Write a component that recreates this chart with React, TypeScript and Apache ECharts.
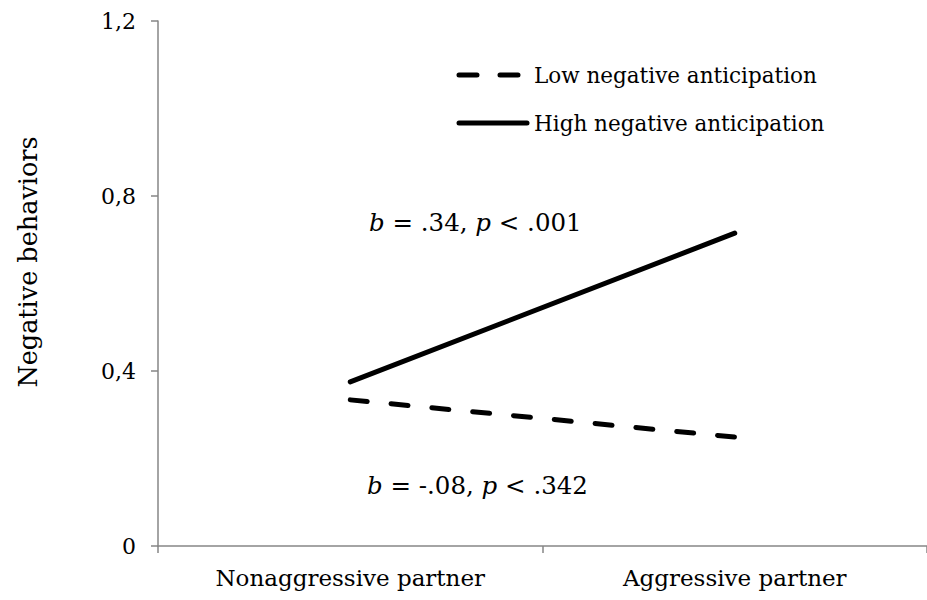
import React, { useEffect, useRef } from "react";
import * as echarts from "echarts";

const categories = ["Nonaggressive partner", "Aggressive partner"];
const lowSeriesName = "Low negative anticipation";
const highSeriesName = "High negative anticipation";
const lowValues = [0.334, 0.249];
const highValues = [0.375, 0.715];
const yMin = 0;
const yMax = 1.2;
const yInterval = 0.4;
const yAxisTitle = "Negative behaviors";
const annotations = [
  { b: ".34", p: ".001", x: 369, y: 222 },
  { b: "-.08", p: ".342", x: 367, y: 485 },
];

const FONT = "DejaVu Serif";
const AXIS_COLOR = "#868686";
const LOW_DASH = [17, 24];

export default function App() {
  const ref = useRef<HTMLDivElement>(null);
  useEffect(() => {
    if (!ref.current) return;
    const chart = echarts.init(ref.current, undefined, { renderer: "svg" });
    const legendRows = [
      { name: lowSeriesName, y: 75, dash: [18, 23], x2: 522 },
      { name: highSeriesName, y: 123, dash: null as number[] | null, x2: 527 },
    ];
    chart.setOption({
      animation: false,
      backgroundColor: "#ffffff",
      textStyle: { fontFamily: FONT, color: "#000" },
      grid: { left: 158, right: -5, top: 21, bottom: 54, containLabel: false },
      xAxis: {
        type: "category",
        data: categories,
        boundaryGap: true,
        axisLine: { lineStyle: { color: AXIS_COLOR, width: 1.5 } },
        axisTick: { show: true, length: 7, alignWithLabel: false, lineStyle: { color: AXIS_COLOR, width: 1.5 } },
        axisLabel: { fontFamily: FONT, fontSize: 23, color: "#000", margin: 20 },
        splitLine: { show: false },
      },
      yAxis: {
        type: "value",
        min: yMin,
        max: yMax,
        interval: yInterval,
        axisLine: { show: true, lineStyle: { color: AXIS_COLOR, width: 1.5 } },
        axisTick: { show: true, length: 7, lineStyle: { color: AXIS_COLOR, width: 1.5 } },
        axisLabel: {
          fontFamily: FONT,
          fontSize: 22,
          color: "#000",
          margin: 22,
          formatter: (v: number) => String(Math.round(v * 10) / 10).replace(".", ","),
        },
        splitLine: { show: false },
      },
      series: [
        {
          name: lowSeriesName,
          type: "line",
          data: lowValues,
          symbol: "none",
          lineStyle: { color: "#000", width: 5, type: LOW_DASH, cap: "round" },
          itemStyle: { color: "#000" },
        },
        {
          name: highSeriesName,
          type: "line",
          data: highValues,
          symbol: "none",
          lineStyle: { color: "#000", width: 5, type: "solid", cap: "round" },
          itemStyle: { color: "#000" },
        },
      ],
      graphic: [
        {
          type: "text",
          x: 28,
          y: 262,
          rotation: Math.PI / 2,
          style: {
            text: yAxisTitle,
            fontFamily: FONT,
            fontSize: 25.5,
            fill: "#000",
            align: "center",
            verticalAlign: "middle",
          },
        },
        ...annotations.map((a) => ({
          type: "text",
          x: a.x,
          y: a.y,
          style: {
            text: `{i|b}{n| = ${a.b}, }{i|p}{n| < ${a.p}}`,
            fontFamily: FONT,
            fontSize: 24.5,
            fill: "#000",
            align: "left",
            verticalAlign: "middle",
            rich: {
              i: { fontFamily: FONT, fontSize: 24.5, fontStyle: "italic", fill: "#000" },
              n: { fontFamily: FONT, fontSize: 24.5, fill: "#000" },
            },
          },
        })),
        ...legendRows.flatMap((r) => [
          {
            type: "line",
            shape: { x1: 459, y1: r.y, x2: r.x2, y2: r.y },
            style: {
              stroke: "#000",
              lineWidth: 5,
              lineCap: "round",
              lineDash: r.dash || undefined,
            },
          },
          {
            type: "text",
            x: 534,
            y: r.y,
            style: {
              text: r.name,
              fontFamily: FONT,
              fontSize: 21.5,
              fill: "#000",
              align: "left",
              verticalAlign: "middle",
            },
          },
        ]),
      ],
    });
    return () => chart.dispose();
  }, []);
  return (
    <div
      ref={ref}
      style={{ position: "absolute", left: 0, top: 0, width: 927, height: 600 }}
    />
  );
}
